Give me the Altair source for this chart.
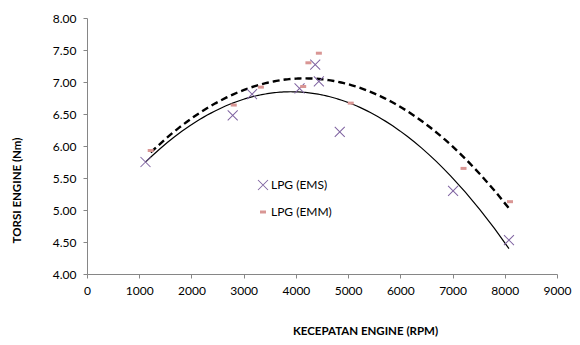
import altair as alt
import pandas as pd

series_names = ["LPG (EMS)", "LPG (EMM)"]
rpm_ems = [1120, 2790, 3160, 4070, 4370, 4440, 4840, 7010, 8080]
torsi_ems = [5.75, 6.48, 6.81, 6.90, 7.27, 7.01, 6.22, 5.30, 4.53]
rpm_emm = [1220, 2810, 3330, 4140, 4240, 4440, 5050, 7210, 8100]
torsi_emm = [5.93, 6.64, 6.92, 6.93, 7.30, 7.45, 6.67, 5.65, 5.13]

x_ticks = [0, 1000, 2000, 3000, 4000, 5000, 6000, 7000, 8000, 9000]
y_ticks = [4.0, 4.5, 5.0, 5.5, 6.0, 6.5, 7.0, 7.5, 8.0]

rows = []
for r, t in zip(rpm_ems, torsi_ems):
    rows.append({"series": series_names[0], "rpm": r, "torsi": t})
for r, t in zip(rpm_emm, torsi_emm):
    rows.append({"series": series_names[1], "rpm": r, "torsi": t})
df = pd.DataFrame(rows)

X_PATH = ("M-1.07,-0.93L0.93,1.07L1.07,0.93L-0.93,-1.07Z"
          "M-0.93,1.07L1.07,-0.93L0.93,-1.07L-1.07,0.93Z")
DASH_PATH = "M-0.6,-0.3L0.6,-0.3L0.6,0.3L-0.6,0.3Z"

FONT = "Lato"

x_enc = alt.X(
    "rpm:Q",
    scale=alt.Scale(domain=[0, 9000], nice=False),
    axis=alt.Axis(values=x_ticks, format="d", title="KECEPATAN ENGINE (RPM)",
                  titleX=278, titleY=57, titleBaseline="middle"),
)
y_enc = alt.Y(
    "torsi:Q",
    scale=alt.Scale(domain=[4, 8], nice=False, zero=False),
    axis=alt.Axis(values=y_ticks, format=".2f", title="TORSI ENGINE (Nm)",
                  titleX=-70, titleY=172, titleBaseline="middle", titleAngle=270),
)

legend = alt.Legend(title=None, orient="none", legendX=170, legendY=161,
                    symbolSize=100, labelFont=FONT, labelFontSize=12,
                    labelColor="black", rowPadding=15, padding=0, labelOffset=2)

base = alt.Chart(df).encode(x=x_enc, y=y_enc)

points = base.mark_point(filled=True, size=100, opacity=1, strokeWidth=0).encode(
    color=alt.Color("series:N", scale=alt.Scale(domain=series_names, range=["#7f63a1", "#d99694"]),
                    legend=legend),
    shape=alt.Shape("series:N", scale=alt.Scale(domain=series_names, range=[X_PATH, DASH_PATH]),
                    legend=legend),
)

ems_line = base.transform_filter(alt.datum.series == series_names[0]).transform_regression(
    "rpm", "torsi", method="poly", order=2
).mark_line(color="black", strokeWidth=1.2)

emm_line = base.transform_filter(alt.datum.series == series_names[1]).transform_regression(
    "rpm", "torsi", method="poly", order=2
).mark_line(color="black", strokeWidth=2.4, strokeDash=[7, 4])

chart = alt.layer(emm_line, ems_line, points).properties(
    width=470, height=256, autosize="none",
    padding={"left": 79, "top": 10, "right": 15, "bottom": 63},
).configure_axis(
    grid=False, domainColor="#868686", tickColor="#868686", tickSize=4,
    labelFont=FONT, labelFontSize=12, labelColor="black", labelPadding=7,
    labelFlush=False, labelOverlap=False,
    titleFont=FONT, titleFontSize=11.5, titleFontWeight="bold", titleColor="black",
).configure_view(stroke=None)

chart.save("out.html", embed_options={"renderer": "svg", "actions": False})
